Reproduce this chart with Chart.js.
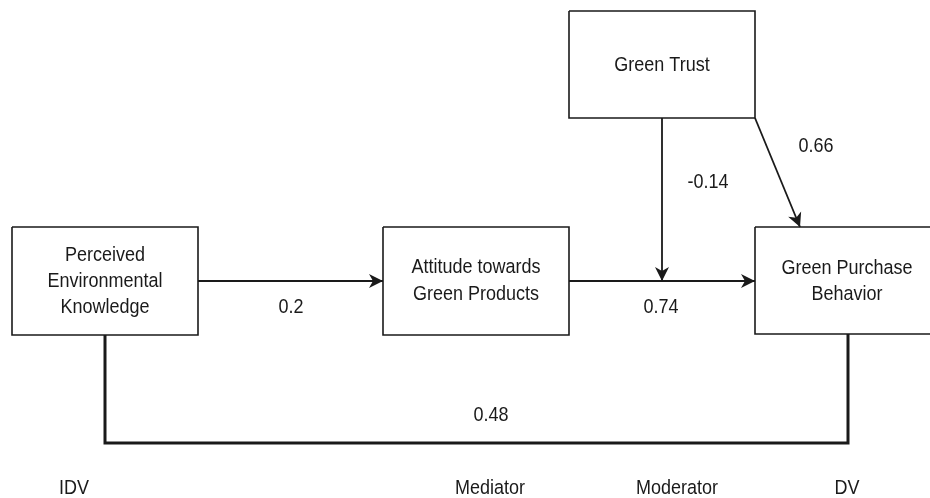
<!DOCTYPE html>
<html>
<head>
<meta charset="utf-8">
<script src="https://cdn.jsdelivr.net/npm/chart.js@4"></script>
<style>
  html, body { margin: 0; padding: 0; background: #fff; }
  #wrap { width: 930px; height: 498px; position: relative; }
</style>
</head>
<body>
<div id="wrap"><canvas id="pathChart"></canvas></div>
<script>
// Model content
const factors = [
    ['Perceived', 'Environmental', 'Knowledge'],
    ['Attitude towards', 'Green Products'],
    ['Green Trust'],
    ['Green Purchase', 'Behavior'],
];
const roles = ['IDV', 'Mediator', 'Moderator', 'DV'];
// path coefficients: PEK->ATT, ATT->GPB, GT moderation, GT->GPB, PEK->GPB (direct)
const coefLabels = ['0.2', '0.74', '-0.14', '0.66', '0.48'];

// Diagram layout (pixel units of the 930x498 canvas)
const boxRects = [[12, 227, 198, 335], [383, 227, 569, 335], [569, 11, 755, 118], [755, 227, 931, 334]];
const boxTextX = [105, 476, 662, 847];
const boxTextY = [[255, 281, 307], [267, 294], [65], [268, 294]];
const edgePaths = [
    [[198, 281], [383, 281]],
    [[569, 281], [755, 281]],
    [[662, 118], [662, 281]],
    [[755, 118], [800, 227]],
    [[105, 335], [105, 443], [848, 443], [848, 334]],
];
const edgeArrow = [true, true, true, true, false];
const edgeWidth = [1.8, 1.8, 1.8, 1.8, 3];
const coefPos = [[291, 307], [661, 307], [708, 182], [816, 146], [491, 415]];
const roleX = [74, 490, 677, 847];
const roleY = 488;

const ink = '#1a1a1a';
const font = '18px "Liberation Sans", Arial, sans-serif';

const datasets = [];
boxRects.forEach(function (r) {
    datasets.push({
        data: [{x: r[0], y: r[1]}, {x: r[2], y: r[1]}, {x: r[2], y: r[3]}, {x: r[0], y: r[3]}, {x: r[0], y: r[1]}],
        showLine: true,
        borderColor: ink,
        borderWidth: 1.6,
        borderJoinStyle: 'miter',
        pointRadius: 0,
        fill: false,
    });
});
edgePaths.forEach(function (p, i) {
    datasets.push({
        data: p.map(function (pt) { return {x: pt[0], y: pt[1]}; }),
        showLine: true,
        borderColor: ink,
        borderWidth: edgeWidth[i],
        borderJoinStyle: 'miter',
        pointRadius: 0,
        fill: false,
        arrow: edgeArrow[i],
    });
});

// text drawn slightly taller than wide, like the source image
function label(c, t, x, y) {
    c.save();
    c.translate(x, y);
    c.scale(1, 1.15);
    c.fillText(t, 0, 0);
    c.restore();
}

// arrowheads and text
const diagramPlugin = {
    id: 'diagram',
    afterDatasetsDraw(chart) {
        const c = chart.ctx;
        const xs = chart.scales.x, ys = chart.scales.y;
        c.save();
        chart.data.datasets.forEach(function (ds, i) {
            if (!ds.arrow) return;
            const pts = chart.getDatasetMeta(i).data;
            const a = pts[pts.length - 2], b = pts[pts.length - 1];
            const ang = Math.atan2(b.y - a.y, b.x - a.x);
            c.save();
            c.translate(b.x, b.y);
            c.rotate(ang);
            c.beginPath();
            c.moveTo(0, 0);
            c.lineTo(-14, -7);
            c.lineTo(-10, 0);
            c.lineTo(-14, 7);
            c.closePath();
            c.fillStyle = ink;
            c.fill();
            c.restore();
        });

        c.fillStyle = ink;
        c.font = font;
        c.textAlign = 'center';
        c.textBaseline = 'middle';
        factors.forEach(function (lines, i) {
            lines.forEach(function (t, j) {
                label(c, t, xs.getPixelForValue(boxTextX[i]), ys.getPixelForValue(boxTextY[i][j]));
            });
        });
        coefLabels.forEach(function (t, i) {
            label(c, t, xs.getPixelForValue(coefPos[i][0]), ys.getPixelForValue(coefPos[i][1]));
        });
        roles.forEach(function (t, i) {
            label(c, t, xs.getPixelForValue(roleX[i]), ys.getPixelForValue(roleY));
        });
        c.restore();
    }
};

new Chart(document.getElementById('pathChart'), {
    type: 'scatter',
    data: { datasets: datasets },
    options: {
        responsive: true,
        maintainAspectRatio: false,
        animation: false,
        layout: { padding: 0 },
        plugins: { legend: { display: false }, tooltip: { enabled: false } },
        scales: {
            x: { type: 'linear', min: 0, max: 930, display: false },
            y: { type: 'linear', min: 0, max: 498, reverse: true, display: false },
        },
    },
    plugins: [diagramPlugin],
});
</script>
</body>
</html>
